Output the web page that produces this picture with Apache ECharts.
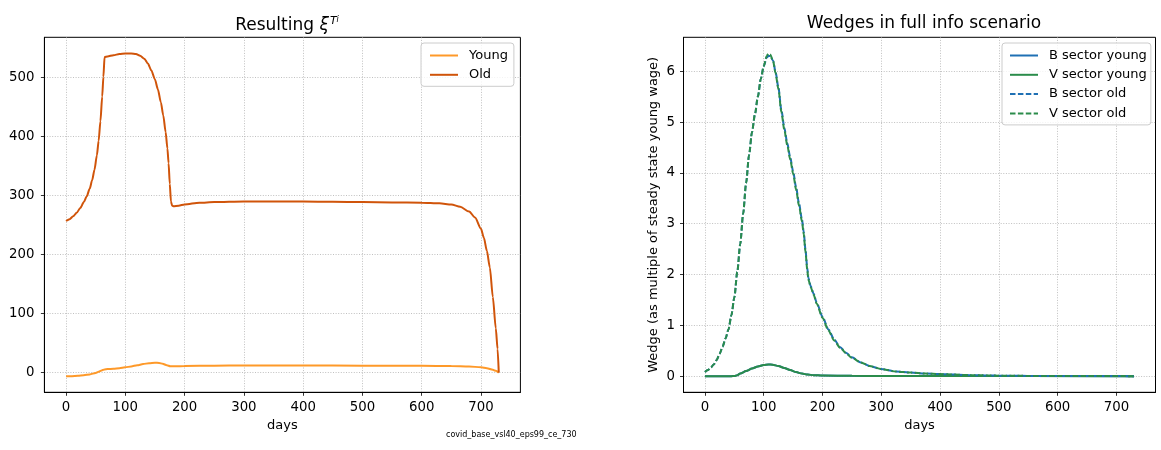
<!DOCTYPE html>
<html>
<head>
<meta charset="utf-8">
<script src="https://cdn.jsdelivr.net/npm/echarts@6/dist/echarts.min.js"></script>
<style>
html,body{margin:0;padding:0;background:#fff;}
#chart{width:1161px;height:450px;}
</style>
</head>
<body>
<div id="chart"></div>
<script>
// ---------------- DATA ----------------
const xTicks = [0, 100, 200, 300, 400, 500, 600, 700];
const leftYTicks = [0, 100, 200, 300, 400, 500];
const rightYTicks = [0, 1, 2, 3, 4, 5, 6];

// Left panel: Resulting xi^{T^i}
const oldDays = [0, 6, 12, 18, 24, 30, 35, 40, 44, 48, 52, 55, 58, 61, 63, 65, 70, 80, 90, 100, 110, 118, 125, 132, 138, 144, 150, 155, 160, 164, 168, 171, 173, 175, 177, 179, 181, 190, 200, 225, 250, 300, 350, 400, 450, 500, 550, 600, 630, 650, 665, 680, 690, 700, 705, 710, 715, 720, 725, 728, 730];
const oldVals = [257, 260, 265, 271, 279, 289, 299, 312, 326, 344, 368, 393, 426, 468, 501, 535, 536, 538, 540, 541, 541, 540, 537, 532, 524, 512, 497, 480, 458, 436, 408, 380, 355, 320, 290, 283, 282, 283, 285, 288, 289, 290, 290, 290, 289.5, 289, 288.5, 288, 287, 285, 281, 273, 263, 244, 228, 206, 178, 128, 75, 40, 0];

const youngDays = [0, 10, 20, 30, 40, 50, 55, 60, 65, 70, 80, 90, 100, 110, 120, 130, 140, 150, 157, 163, 170, 176, 185, 200, 250, 300, 400, 500, 600, 650, 680, 700, 710, 720, 725, 730];
const youngVals = [-6, -6, -5.5, -4.5, -3, -0.5, 1.5, 3.5, 5.5, 6, 6.5, 7.5, 9, 10.5, 12.5, 14.5, 16, 16.8, 16.5, 15, 12.5, 10.8, 10.8, 11.2, 11.8, 12, 12, 11.8, 11.5, 11.2, 10.5, 9, 7.5, 5, 3, 0];

// Right panel: Wedges in full info scenario
const wedgeOldDays = [0, 5, 10, 15, 20, 25, 30, 35, 40, 45, 50, 55, 60, 65, 70, 75, 80, 85, 90, 95, 100, 105, 108, 111, 116, 120, 125, 130, 135, 140, 145, 150, 155, 160, 165, 168, 171, 174, 176, 180, 185, 190, 200, 210, 220, 230, 240, 250, 265, 280, 300, 325, 350, 375, 400, 450, 500, 550, 600, 730];
const vOldVals = [0.08, 0.12, 0.17, 0.23, 0.32, 0.44, 0.58, 0.74, 0.92, 1.2, 1.55, 2.05, 2.6, 3.2, 3.8, 4.35, 4.8, 5.15, 5.5, 5.85, 6.1, 6.3, 6.35, 6.33, 6.2, 5.97, 5.65, 5.2, 4.85, 4.55, 4.27, 3.99, 3.68, 3.36, 3.05, 2.8, 2.45, 2.1, 1.9, 1.75, 1.6, 1.43, 1.15, 0.9, 0.7, 0.56, 0.45, 0.36, 0.27, 0.2, 0.14, 0.09, 0.07, 0.05, 0.04, 0.02, 0.01, 0.005, 0.003, 0];
const bOldVals = [0.08, 0.12, 0.17, 0.23, 0.32, 0.44, 0.58, 0.74, 0.92, 1.2, 1.55, 2.05, 2.6, 3.2, 3.8, 4.35, 4.8, 5.15, 5.5, 5.85, 6.1, 6.27, 6.3, 6.3, 6.21, 5.99, 5.68, 5.24, 4.89, 4.59, 4.31, 4.03, 3.72, 3.4, 3.09, 2.84, 2.49, 2.14, 1.93, 1.77, 1.62, 1.45, 1.17, 0.92, 0.72, 0.57, 0.46, 0.37, 0.27, 0.2, 0.14, 0.09, 0.07, 0.05, 0.04, 0.02, 0.01, 0.005, 0.003, 0];

const wedgeYoungDays = [0, 45, 50, 55, 60, 70, 80, 90, 100, 108, 115, 125, 135, 145, 155, 165, 175, 185, 200, 250, 300, 400, 730];
const vYoungVals = [0, 0, 0.003, 0.02, 0.05, 0.1, 0.15, 0.19, 0.22, 0.23, 0.225, 0.2, 0.16, 0.12, 0.08, 0.05, 0.03, 0.02, 0.012, 0.006, 0.004, 0.002, 0];
const bYoungVals = [0, 0, 0.003, 0.02, 0.05, 0.1, 0.15, 0.19, 0.22, 0.23, 0.225, 0.2, 0.16, 0.12, 0.08, 0.05, 0.03, 0.02, 0.012, 0.006, 0.004, 0.002, 0];

const pairs = (xs, ys) => xs.map((x, i) => [x, ys[i]]);

// ---------------- STYLE ----------------
const FONT = 'DejaVu Sans';
const C_YOUNG = '#fe9929';
const C_OLD = '#d0540a';
const C_B = '#1f70b4';
const C_V = '#2b8c4b';
const DASH = [5.5, 2.4];

function xAxisFor(gridIndex) {
  return {
    type: 'value', gridIndex: gridIndex,
    min: -36.5, max: 766.5,
    name: 'days', nameLocation: 'middle', nameGap: 25,
    nameTextStyle: {fontFamily: FONT, fontSize: 13, color: '#000'},
    axisLine: {show: true, onZero: false, lineStyle: {color: '#000', width: 1}},
    axisTick: {show: true, length: 3.5, inside: false, customValues: xTicks, lineStyle: {color: '#000', width: 0.8}},
    axisLabel: {customValues: xTicks, margin: 9, fontFamily: FONT, fontSize: 13.3, color: '#000'},
    splitLine: {show: true, lineStyle: {color: '#b0b0b0', width: 0.8, type: [1, 1.6]}}
  };
}
function yAxisFor(gridIndex, min, max, ticks, margin, name) {
  return {
    type: 'value', gridIndex: gridIndex, min: min, max: max,
    name: name || '', nameLocation: 'middle', nameGap: 23, nameRotate: 90,
    nameTextStyle: {fontFamily: FONT, fontSize: 13, color: '#000'},
    axisLine: {show: true, onZero: false, lineStyle: {color: '#000', width: 1}},
    axisTick: {show: true, length: 3.5, inside: false, customValues: ticks, lineStyle: {color: '#000', width: 0.8}},
    axisLabel: {customValues: ticks, margin: margin, fontFamily: FONT, fontSize: 13.3, color: '#000'},
    splitLine: {show: true, lineStyle: {color: '#b0b0b0', width: 0.8, type: [1, 1.6]}}
  };
}

function lineSeries(name, xi, yi, data, color, dashed, z) {
  return {
    name: name, type: 'line', xAxisIndex: xi, yAxisIndex: yi,
    data: data, symbol: 'none', smooth: 0.25, smoothMonotone: 'x',
    animation: false, z: z,
    lineStyle: {color: color, width: 2, type: dashed ? DASH : 'solid', cap: 'butt'},
    itemStyle: {color: color}
  };
}

const legendCommon = {
  orient: 'vertical', itemWidth: 28, itemHeight: 12, itemGap: 6.3,
  padding: [6, 4, 5, 7],
  backgroundColor: 'rgba(255,255,255,0.8)', borderColor: '#cccccc', borderWidth: 1, borderRadius: 3,
  textStyle: {fontFamily: FONT, fontSize: 13, color: '#000', padding: [0, 0, 0, 6]},
  itemStyle: {opacity: 0, borderWidth: 0},
  lineStyle: {opacity: 1},
  selectedMode: false
};

const option = {
  backgroundColor: '#fff',
  animation: false,
  title: [
    {
      left: 282, top: 10.5, textAlign: 'center',
      text: 'Resulting {xi|ξ}{sup|T}{supi|i}',
      textStyle: {
        fontFamily: FONT, fontSize: 17, fontWeight: 'normal', color: '#000',
        rich: {
          xi: {fontFamily: FONT, fontSize: 17, fontStyle: 'italic', color: '#000'},
          sup: {fontFamily: FONT, fontSize: 11, fontStyle: 'italic', color: '#000', verticalAlign: 'top', padding: [0, 0, 8, 1]},
          supi: {fontFamily: FONT, fontSize: 8, fontStyle: 'italic', color: '#000', verticalAlign: 'top', padding: [0, 0, 12, 0]}
        }
      }
    },
    {
      left: 919, top: 10.5, textAlign: 'center',
      text: 'Wedges in full info scenario',
      textStyle: {fontFamily: FONT, fontSize: 17, fontWeight: 'normal', color: '#000'}
    }
  ],
  grid: [
    {left: 44.4, top: 37.3, width: 476, height: 355, show: true, borderColor: '#000', borderWidth: 1, backgroundColor: 'transparent', containLabel: false},
    {left: 683.5, top: 37.3, width: 472, height: 355, show: true, borderColor: '#000', borderWidth: 1, backgroundColor: 'transparent', containLabel: false}
  ],
  xAxis: [xAxisFor(0), xAxisFor(1)],
  yAxis: [
    yAxisFor(0, -33.35, 568.35, leftYTicks, 10),
    yAxisFor(1, -0.318, 6.67, rightYTicks, 8.5, 'Wedge (as multiple of steady state young wage)')
  ],
  legend: [
    Object.assign({}, legendCommon, {left: 421, top: 43, padding: [6, 6, 5, 8], data: ['Young', 'Old']}),
    Object.assign({}, legendCommon, {left: 1002, top: 43, data: ['B sector young', 'V sector young', 'B sector old', 'V sector old']})
  ],
  graphic: [
    {
      type: 'text', left: 446, top: 431,
      style: {text: 'covid_base_vsl40_eps99_ce_730', font: '8px "DejaVu Sans"', fill: '#000'}
    }
  ],
  series: [
    lineSeries('Young', 0, 0, pairs(youngDays, youngVals), C_YOUNG, false, 2),
    lineSeries('Old', 0, 0, pairs(oldDays, oldVals), C_OLD, false, 3),
    lineSeries('B sector young', 1, 1, pairs(wedgeYoungDays, bYoungVals), C_B, false, 2),
    lineSeries('V sector young', 1, 1, pairs(wedgeYoungDays, vYoungVals), C_V, false, 3),
    lineSeries('B sector old', 1, 1, pairs(wedgeOldDays, bOldVals), C_B, true, 4),
    lineSeries('V sector old', 1, 1, pairs(wedgeOldDays, vOldVals), C_V, true, 5)
  ]
};

const chart = echarts.init(document.getElementById('chart'), null, {renderer: 'canvas'});
chart.setOption(option);
</script>
</body>
</html>
